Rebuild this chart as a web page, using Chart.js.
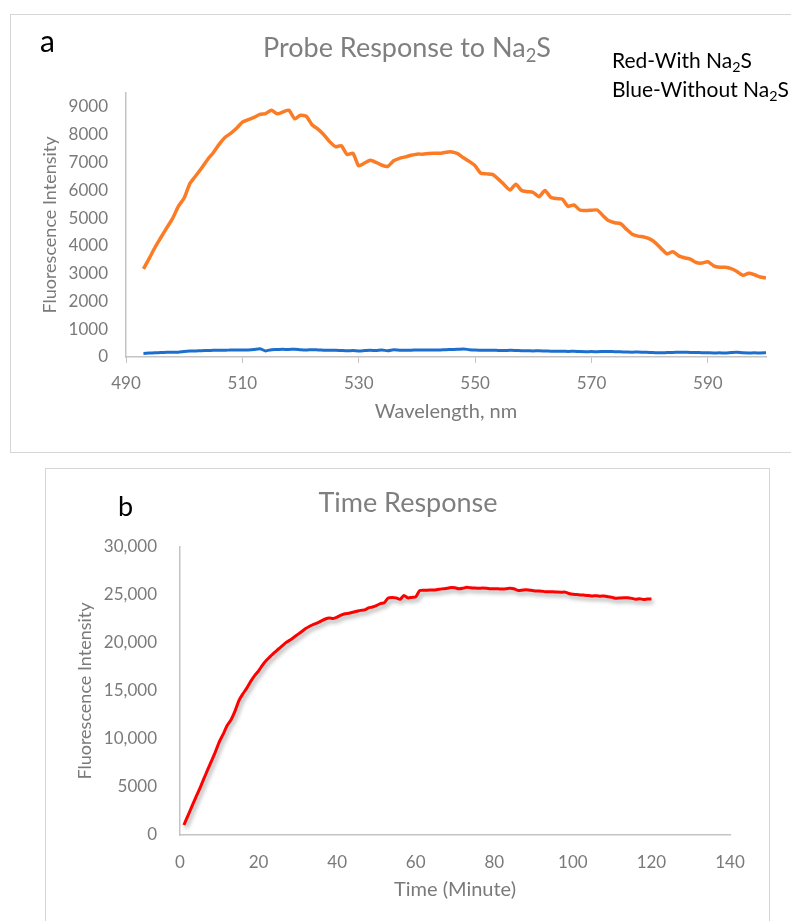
<!DOCTYPE html>
<html>
<head>
<meta charset="utf-8">
<script src="https://cdn.jsdelivr.net/npm/chart.js@4.4.1/dist/chart.umd.min.js"></script>
<style>
    body { margin: 0; background: #fff; width: 791px; height: 921px; overflow: hidden; position: relative; font-family: Lato, sans-serif; }
    .box { position: absolute; border: 1px solid #d6d6d6; box-sizing: border-box; }
    .cv { position: absolute; }
    .txt { position: absolute; white-space: nowrap; line-height: 1.2; }
    .ttl { color: #7f7f7f; font-size: 27px; text-align: center; width: 400px; }
    sub { font-size: 0.68em; vertical-align: -0.28em; line-height: 0; }
</style>
</head>
<body>
<div class="box" style="left:10px;top:14px;width:800px;height:439px"></div>
<div class="box" style="left:45px;top:468px;width:725px;height:480px"></div>

<div class="cv" style="left:10px;top:14px;width:781px;height:438px"><canvas id="chartA"></canvas></div>
<div class="cv" style="left:45px;top:468px;width:724px;height:453px"><canvas id="chartB"></canvas></div>

<div class="txt" style="left:40px;top:22px;font-size:30px;color:#000">a</div>
<div class="txt ttl" style="left:207px;top:31px">Probe Response to Na<sub>2</sub>S</div>
<div class="txt" style="left:612px;top:47px;font-size:21px;color:#000">Red-With Na<sub>2</sub>S</div>
<div class="txt" style="left:612px;top:76px;font-size:21px;color:#000">Blue-Without Na<sub>2</sub>S</div>

<div class="txt" style="left:118px;top:490px;font-size:27px;color:#000">b</div>
<div class="txt ttl" style="left:208px;top:486px">Time Response</div>

<script>
// chart a: emission spectra
const wavelengths = [
    493, 494, 495, 496, 497, 498, 499, 500, 501, 502, 503, 504, 505, 506, 507, 508, 509, 510,
    511, 512, 513, 514, 515, 516, 517, 518, 519, 520, 521, 522, 523, 524, 525, 526, 527, 528,
    529, 530, 531, 532, 533, 534, 535, 536, 537, 538, 539, 540, 541, 542, 543, 544, 545, 546,
    547, 548, 549, 550, 551, 552, 553, 554, 555, 556, 557, 558, 559, 560, 561, 562, 563, 564,
    565, 566, 567, 568, 569, 570, 571, 572, 573, 574, 575, 576, 577, 578, 579, 580, 581, 582,
    583, 584, 585, 586, 587, 588, 589, 590, 591, 592, 593, 594, 595, 596, 597, 598, 599, 600
];
const withNa2S = [
    3170, 3550, 3950, 4300, 4650, 4980, 5420, 5720, 6250, 6520, 6800, 7100, 7350, 7650, 7900, 8050, 8230, 8450,
    8540, 8620, 8730, 8760, 8880, 8750, 8820, 8880, 8570, 8700, 8660, 8350, 8200, 8000, 7750, 7570, 7600, 7290,
    7330, 6880, 6980, 7080, 7000, 6900, 6860, 7060, 7150, 7200, 7260, 7300, 7300, 7320, 7330, 7330, 7370, 7380,
    7320, 7170, 7040, 6880, 6610, 6590, 6570, 6400, 6200, 6010, 6220, 5990, 5950, 5920, 5770, 5990, 5750, 5700,
    5680, 5420, 5470, 5290, 5270, 5280, 5290, 5080, 4900, 4830, 4800, 4600, 4420, 4350, 4320, 4250, 4110, 3900,
    3710, 3790, 3640, 3570, 3520, 3400, 3380, 3430, 3280, 3230, 3230, 3180, 3080, 2940, 3010, 2960, 2880, 2840
];
const withoutNa2S = [
    130, 140, 150, 160, 170, 175, 170, 200, 215, 220, 225, 235, 240, 245, 240, 255, 250, 250,
    255, 270, 300, 220, 265, 270, 275, 270, 280, 260, 250, 265, 255, 245, 240, 245, 235, 225,
    230, 220, 230, 240, 235, 250, 225, 260, 245, 240, 245, 250, 250, 255, 250, 255, 265, 270,
    275, 290, 265, 250, 245, 240, 245, 235, 230, 240, 235, 225, 225, 220, 225, 215, 210, 205,
    210, 200, 205, 195, 190, 195, 190, 195, 200, 190, 185, 180, 175, 180, 170, 165, 155, 150,
    160, 165, 170, 170, 165, 160, 155, 150, 145, 150, 145, 160, 170, 150, 145, 150, 145, 150
];
const xTicksA = [490, 510, 530, 550, 570, 590];
const yTicksA = [0, 1000, 2000, 3000, 4000, 5000, 6000, 7000, 8000, 9000];

// chart b: time course
const minutes = [
    1, 2, 3, 4, 5, 6, 7, 8, 9, 10, 11, 12, 13, 14, 15, 16, 17, 18, 19, 20,
    21, 22, 23, 24, 25, 26, 27, 28, 29, 30, 31, 32, 33, 34, 35, 36, 37, 38, 39, 40,
    41, 42, 43, 44, 45, 46, 47, 48, 49, 50, 51, 52, 53, 54, 55, 56, 57, 58, 59, 60,
    61, 62, 63, 64, 65, 66, 67, 68, 69, 70, 71, 72, 73, 74, 75, 76, 77, 78, 79, 80,
    81, 82, 83, 84, 85, 86, 87, 88, 89, 90, 91, 92, 93, 94, 95, 96, 97, 98, 99, 100,
    101, 102, 103, 104, 105, 106, 107, 108, 109, 110, 111, 112, 113, 114, 115, 116, 117, 118, 119, 120
];
const intensity = [
    1040, 2000, 2950, 3900, 4800, 5800, 6750, 7700, 8650, 9700, 10500, 11400, 12000, 12900, 14000, 14700, 15300, 16000, 16600, 17100,
    17700, 18200, 18600, 19000, 19350, 19700, 20050, 20300, 20600, 20900, 21200, 21500, 21750, 21950, 22100, 22300, 22500, 22600, 22550, 22700,
    22900, 23050, 23100, 23200, 23300, 23400, 23450, 23650, 23750, 23900, 24100, 24200, 24700, 24750, 24700, 24550, 24950, 24700, 24750, 24800,
    25450, 25500, 25500, 25520, 25520, 25600, 25650, 25700, 25780, 25750, 25650, 25700, 25800, 25750, 25720, 25700, 25720, 25700, 25650, 25640,
    25640, 25630, 25650, 25700, 25650, 25480, 25500, 25550, 25500, 25450, 25420, 25400, 25350, 25350, 25330, 25300, 25290, 25300, 25150, 25070,
    25050, 25000, 24980, 24950, 24900, 24920, 24880, 24900, 24820, 24750, 24660, 24700, 24720, 24720, 24650, 24560, 24620, 24530, 24580, 24590
];
const xTicksB = [0, 20, 40, 60, 80, 100, 120, 140];
const yTicksB = [0, 5000, 10000, 15000, 20000, 25000, 30000];

const grey = '#7a7a7a';
const axisGrey = '#c4c4c4';
const tickFont = { family: 'Lato', size: 17 };
const yTitleFont = { family: 'Lato', size: 18 };
const xTitleFont = { family: 'Lato', size: 20 };

function fixedTicks(values) {
    return (scale) => { scale.ticks = values.map(v => ({ value: v })); };
}

// Excel-like drop shadow under the red line
const lineShadow = {
    id: 'lineShadow',
    beforeDatasetDraw(chart) {
        const c = chart.ctx;
        c.save();
        c.shadowColor = 'rgba(0,0,0,0.35)';
        c.shadowBlur = 4;
        c.shadowOffsetX = 2;
        c.shadowOffsetY = 3;
    },
    afterDatasetDraw(chart) {
        chart.ctx.restore();
    }
};

new Chart(document.getElementById('chartA').getContext('2d'), {
    type: 'line',
    data: {
        datasets: [{
            label: 'With Na2S',
            data: wavelengths.map((w, i) => ({ x: w, y: withNa2S[i] })),
            borderColor: '#fc7b25',
            borderWidth: 3.5,
            pointRadius: 0,
            tension: 0.2
        }, {
            label: 'Without Na2S',
            data: wavelengths.map((w, i) => ({ x: w, y: withoutNa2S[i] })),
            borderColor: '#1d6fce',
            borderWidth: 3,
            pointRadius: 0,
            tension: 0.2
        }]
    },
    options: {
        responsive: true,
        maintainAspectRatio: false,
        animation: false,
        layout: { padding: { left: 29, top: 79, right: 25, bottom: 28 } },
        plugins: { legend: { display: false }, tooltip: { enabled: false } },
        scales: {
            x: {
                type: 'linear',
                min: 490,
                max: 600,
                afterBuildTicks: fixedTicks(xTicksA),
                afterFit: (s) => { s.height = 67; },
                ticks: { color: grey, font: tickFont, padding: 10, maxRotation: 0, autoSkip: false },
                grid: { display: true, drawOnChartArea: false, drawTicks: true, tickLength: 6, color: axisGrey },
                border: { color: axisGrey, width: 1.5 },
                title: { display: true, text: 'Wavelength, nm', color: grey, font: xTitleFont, padding: 0 }
            },
            y: {
                min: 0,
                max: 9500,
                afterBuildTicks: fixedTicks(yTicksA),
                afterFit: (s) => { s.width = 87; },
                ticks: { color: grey, font: tickFont, padding: 18, callback: (v) => String(v) },
                grid: { display: true, drawOnChartArea: false, drawTicks: false, color: axisGrey },
                border: { color: axisGrey, width: 1.5 },
                title: { display: true, text: 'Fluorescence Intensity', color: grey, font: yTitleFont, padding: 0 }
            }
        }
    }
});

new Chart(document.getElementById('chartB').getContext('2d'), {
    type: 'line',
    data: {
        datasets: [{
            label: 'Intensity',
            data: minutes.map((t, i) => ({ x: t, y: intensity[i] })),
            borderColor: '#ff0000',
            borderWidth: 3,
            pointRadius: 0,
            tension: 0.2
        }]
    },
    options: {
        responsive: true,
        maintainAspectRatio: false,
        animation: false,
        layout: { padding: { left: 29, top: 79, right: 39, bottom: 19 } },
        plugins: { legend: { display: false }, tooltip: { enabled: false } },
        scales: {
            x: {
                type: 'linear',
                min: 0,
                max: 140,
                afterBuildTicks: fixedTicks(xTicksB),
                afterFit: (s) => { s.height = 67; },
                ticks: { color: grey, font: tickFont, padding: 17, maxRotation: 0, autoSkip: false },
                grid: { display: true, drawOnChartArea: false, drawTicks: false, color: axisGrey },
                border: { color: axisGrey, width: 1.5 },
                title: { display: true, text: 'Time (Minute)', color: grey, font: xTitleFont, padding: 0 }
            },
            y: {
                min: 0,
                max: 30000,
                afterBuildTicks: fixedTicks(yTicksB),
                afterFit: (s) => { s.width = 106; },
                ticks: {
                    color: grey,
                    font: tickFont,
                    padding: 23,
                    callback: (v) => v >= 10000 ? v.toLocaleString('en-US') : String(v)
                },
                grid: { display: true, drawOnChartArea: false, drawTicks: false, color: axisGrey },
                border: { color: axisGrey, width: 1.5 },
                title: { display: true, text: 'Fluorescence Intensity', color: grey, font: yTitleFont, padding: 0 }
            }
        }
    },
    plugins: [lineShadow]
});
</script>
</body>
</html>
